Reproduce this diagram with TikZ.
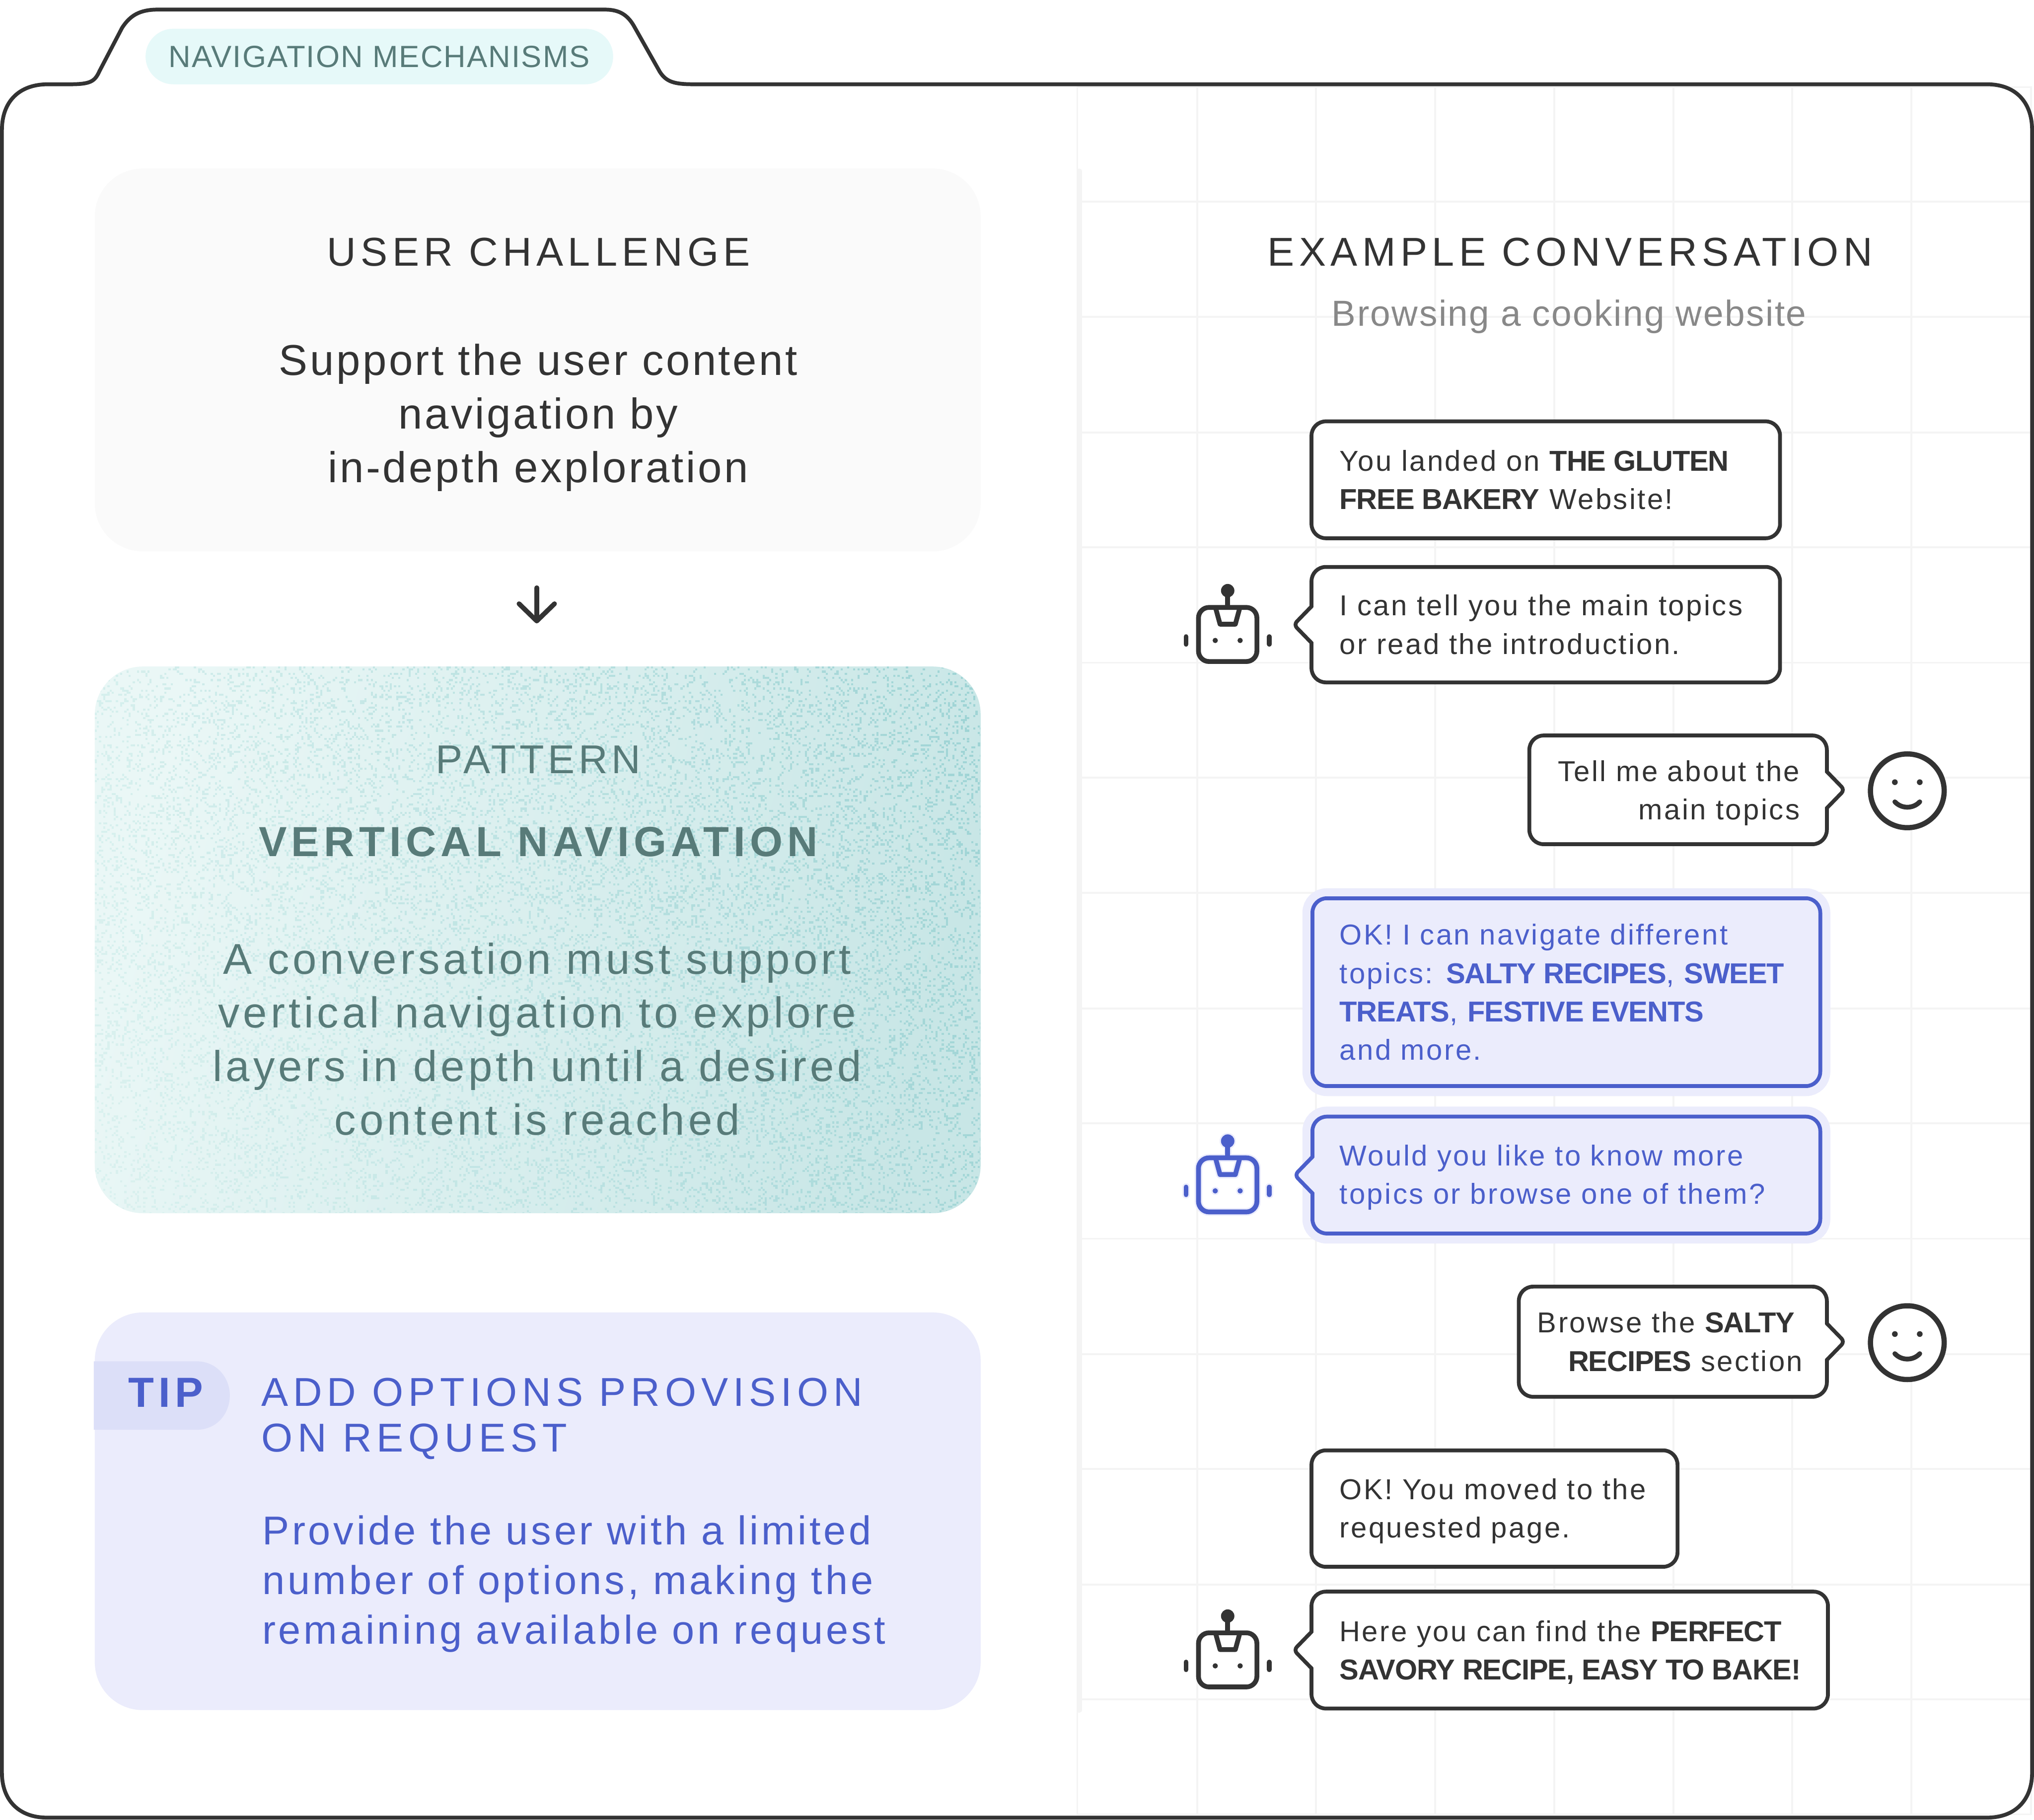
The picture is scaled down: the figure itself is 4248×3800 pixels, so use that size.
\documentclass[tikz,border=0pt]{standalone}
\usepackage{fontspec}
\setmainfont{Liberation Sans}
\usetikzlibrary{arrows.meta,calc}
\definecolor{Ink}{HTML}{333333}
\definecolor{Stone}{HTML}{888888}
\definecolor{Sage}{HTML}{587B79}
\definecolor{Indigo}{HTML}{4B5FCB}
\definecolor{Halo}{HTML}{EBECFC}
\definecolor{HaloDeep}{HTML}{DCDFF8}
\definecolor{CardGray}{HTML}{FAFAFA}
\definecolor{PillMint}{HTML}{E6F9F9}
\definecolor{GridGray}{HTML}{F4F4F4}
\definecolor{MintLight}{HTML}{EAF7F6}
\definecolor{MintDeep}{HTML}{C8E6E6}
\definecolor{GrainLight}{HTML}{DAF1EF}
\definecolor{GrainDeep}{HTML}{9FD4D5}
\newcommand{\lsfont}[3]{\fontsize{#1}{#2}\selectfont\addfontfeatures{LetterSpace=#3}}
\newcommand{\loud}[1]{{\bfseries\addfontfeatures{LetterSpace=-2}#1}}
\newcommand{\bubbletail}[4]{%
  \fill[#3] ($(#1)+(#2*-6,-38)$) -- ($(#1)+(#2*37,0)$) -- ($(#1)+(#2*-6,38)$) -- cycle;
  \draw[tailline,draw=#4] ($(#1)+(0,-38)$) -- ($(#1)+(#2*37,0)$) -- ($(#1)+(0,38)$);
}
\tikzset{
  card/.style={rounded corners=1cm, minimum width=18.49cm, anchor=north west, outer sep=0pt},
  bubble/.style={rounded corners=.3cm, draw=Ink, fill=white, line width=2.28pt,
    anchor=north west, outer sep=0pt},
  hibubble/.style={rounded corners=.3cm, draw=Indigo, fill=Halo, line width=2.28pt,
    anchor=north west, outer sep=0pt,
    preaction={draw=Halo, line width=11.9pt}},
  tailline/.style={line width=2.28pt, rounded corners=.09cm, line join=round},
  bubbletext/.style={text=Ink, inner sep=0pt, font=\lsfont{17.1}{22.8}{6}},
  hitext/.style={text=Indigo, inner sep=0pt, align=left, font=\lsfont{17.1}{22.8}{6}},
  heading/.style={text=Ink, inner sep=0pt, font=\lsfont{23.9}{28}{11.7}},
  lead/.style={text=Ink, inner sep=0pt, align=center, font=\lsfont{25.6}{31.9}{5.4}},
  sagelead/.style={text=Sage, inner sep=0pt, align=center, font=\lsfont{25.6}{31.9}{8.2}},
  grid line/.style={draw=GridGray, line width=1.14pt},
  flow/.style={-{Straight Barb[length=.36cm,width=.74cm,round]}, draw=Ink, line width=2.85pt,
    line cap=round, shorten <=.76cm, shorten >=.90cm},
  pics/robot/.style n args={3}{code={
    \draw[line width=2.85pt+#2*.2845pt, draw=#1, fill=#3, rounded corners=.22cm] (-61,-36) rectangle (61,77);
    \draw[line width=2.85pt+#2*.2845pt, draw=#1, line join=round] (-25,-34) -- (-16,-1) -- (16,-1) -- (25,-34);
    \draw[line width=2.85pt+#2*.2845pt, draw=#1] (0,-72) -- (0,-36);
    \fill[#1] (0,-71) circle ({14+#2/2});
    \fill[#1] (-26,33) circle ({5.5+#2/2}) (26,33) circle ({5.5+#2/2});
    \draw[line width=2.85pt+#2*.2845pt, draw=#1, line cap=round] (-87,25) -- (-87,41) (87,25) -- (87,41);
  }},
  pics/smiley/.style={code={
    \draw[line width=3.1pt, draw=Ink, fill=white] (0,0) circle (77);
    \fill[Ink] (-26,-18) circle (6) (26,-18) circle (6);
    \draw[line width=2.85pt, draw=Ink, line cap=round] (-26,23) .. controls (-12,38) and (12,38) .. (26,23);
  }}
}
\begin{document}
\begin{tikzpicture}[x=.01cm,y=-.01cm]
  \useasboundingbox (0,0) rectangle (4248,3800);
  \fill[white] (0,0) rectangle (4248,3800);
  \foreach \gx in {2500,2748,2997,3246,3495,3743,3992}
    \draw[grid line] (\gx,182) -- (\gx,3789);
  \foreach \gy in {421,662,903,1143,1384,1624,1865,2106,2346,2587,2828,3068,3309,3549}
    \draw[grid line] (2250,\gy) -- (4242,\gy);
  \draw[grid line] (2250,182) rectangle (4242,3789);
  \draw[draw=GridGray, line width=3.4pt, line cap=round] (2254,358) -- (2254,3571);
  \draw[draw=Ink, line width=2.28pt]
    (4,272) .. controls (4,212) and (40,176) .. (100,176) -- (145,176)
    .. controls (190,176) and (198,170) .. (208,148) -- (255,58)
    .. controls (272,32) and (292,20) .. (330,20) -- (1263,20)
    .. controls (1295,20) and (1312,32) .. (1326,58) -- (1378,150)
    .. controls (1392,172) and (1410,176) .. (1450,176) -- (4150,176)
    .. controls (4208,176) and (4244,212) .. (4244,272) -- (4244,3702)
    .. controls (4244,3760) and (4208,3796) .. (4150,3796) -- (98,3796)
    .. controls (40,3796) and (4,3760) .. (4,3702) -- cycle;
  \node[fill=PillMint, rounded corners=.58cm, minimum width=9.76cm, minimum height=1.16cm,
    outer sep=0pt, anchor=north west] (tabpill) at (304,60) {};
  \node[text=Sage, inner sep=0pt, font=\lsfont{18.2}{22}{3.5}] (tabtitle) at (tabpill.center) {NAVIGATION MECHANISMS};
  \node[card, fill=CardGray, minimum height=7.99cm] (challenge) at (198,352) {};
  \node[card, left color=MintLight, right color=MintDeep, shading angle=75, minimum height=11.41cm] (pattern) at (198,1392) {};
  \node[card, fill=Halo, minimum height=8.30cm] (tipcard) at (198,2741) {};
  \draw[flow] ([xshift=-.02cm]challenge.south) -- ([xshift=-.02cm]pattern.north);
  \pgfmathsetseed{7}
  \begin{scope}
    \clip[rounded corners=1cm] (198,1392) rectangle (2047,2533);
    \foreach \i in {0,...,35}{
      \pgfmathtruncatemacro{\mixpct}{\i*100/35}
      \pgfmathsetmacro{\lowx}{198+\i*56}
      \draw[draw=GrainDeep!\mixpct!GrainLight, line width=1.25pt]
        \foreach \n [evaluate=\n as \doty using {1394+4.4*int(rnd*260)}] in {1,...,600}{
          ({4.4*int((\lowx+rnd*56-(2533-\doty)*.15)/4.4)},\doty) -- ++(4.4,0)
        };
    }
  \end{scope}
  \node[heading] (challengetitle) at (1125,526) {USER CHALLENGE};
  \node[lead] (challengebody) at (1124,872) {Support the user content\\navigation by\\in-depth exploration};
  \node[text=Sage, inner sep=0pt, font=\lsfont{23.9}{28}{9.5}] (patterntitle) at (1124,1586) {PATTERN};
  \node[text=Sage, inner sep=0pt, font=\lsfont{25}{30}{11}\bfseries] (patternname) at (1124,1758) {VERTICAL NAVIGATION};
  \node[sagelead] (patternbody) at (1122,2170) {A conversation must support\\vertical navigation to explore\\layers in depth until a desired\\content is reached};
  \draw[fill=HaloDeep, draw=none] (196,2843) -- (410,2843) .. controls (455,2843) and (480,2880) .. (480,2914)
    .. controls (480,2950) and (455,2986) .. (410,2986) -- (196,2986) -- cycle;
  \node[text=Indigo, inner sep=0pt, font=\lsfont{25}{30}{11}\bfseries] (tiplabel) at (346,2908) {TIP};
  \node[text=Indigo, inner sep=0pt, align=left, anchor=north west, font=\lsfont{23.9}{27.3}{12.3}] (tiptitle) at (545,2877) {ADD OPTIONS PROVISION\\ON REQUEST};
  \node[text=Indigo, inner sep=0pt, align=left, anchor=west, font=\lsfont{23.9}{29.6}{7.2}] (tipbody) at (547,3308) {Provide the user with a limited\\number of options, making the\\remaining available on request};
  \node[heading] (exampletitle) at (3279,526) {EXAMPLE CONVERSATION};
  \node[text=Stone, inner sep=0pt, font=\lsfont{21.5}{26}{3.5}] (examplesub) at (3277,661) {Browsing a cooking website};
  \node[bubble, minimum width=9.78cm, minimum height=2.44cm] (landed) at (2739,880) {};
  \node[bubbletext, align=left, anchor=west] (landedtext) at ($(landed.west)+(58,0)$) {You landed on \loud{THE GLUTEN}\\\loud{FREE BAKERY} Website!};
  \node[bubble, minimum width=9.78cm, minimum height=2.41cm] (topics) at (2739,1184) {};
  \bubbletail{topics.west}{-1}{white}{Ink}
  \node[bubbletext, align=left, anchor=west] (topicstext) at ($(topics.west)+(58,0)$) {I can tell you the main topics\\or read the introduction.};
  \pic at ($(topics.west)+(-175,0)$) {robot={Ink}{0}{white}};
  \node[bubble, minimum width=6.21cm, minimum height=2.27cm] (tellme) at (3194,1536) {};
  \bubbletail{tellme.east}{1}{white}{Ink}
  \node[bubbletext, align=right, anchor=east] (tellmetext) at ($(tellme.east)+(-56,7)$) {Tell me about the\\main topics};
  \pic at ($(tellme.east)+(168,2)$) {smiley};
  \node[hibubble, minimum width=10.60cm, minimum height=3.92cm] (navigate) at (2741,1876) {};
  \node[hitext, anchor=west] (navigatetext) at ($(navigate.west)+(56,0)$) {OK! I can navigate different\\topics: \loud{SALTY RECIPES}, \loud{SWEET}\\\loud{TREATS}, \loud{FESTIVE EVENTS}\\and more.};
  \node[hibubble, minimum width=10.60cm, minimum height=2.44cm] (browse) at (2741,2332) {};
  \bubbletail{browse.west}{-1}{Halo}{Indigo}
  \node[hitext, anchor=west] (browsetext) at ($(browse.west)+(56,5)$) {Would you like to know more\\topics or browse one of them?};
  \pic at ($(browse.west)+(-177,0)$) {robot={Halo}{6}{white}};
  \pic at ($(browse.west)+(-177,0)$) {robot={Indigo}{0}{none}};
  \node[bubble, minimum width=6.43cm, minimum height=2.30cm] (salty) at (3172,2687) {};
  \bubbletail{salty.east}{1}{white}{Ink}
  \node[bubbletext, align=right, anchor=east] (saltytext) at ($(salty.east)+(-50,0)$) {Browse the \loud{SALTY}\hspace*{.16cm}\\\loud{RECIPES} section};
  \pic at ($(salty.east)+(168,2)$) {smiley};
  \node[bubble, minimum width=7.64cm, minimum height=2.43cm] (moved) at (2739,3029) {};
  \node[bubbletext, align=left, anchor=west] (movedtext) at ($(moved.west)+(58,5)$) {OK! You moved to the\\requested page.};
  \node[bubble, minimum width=10.78cm, minimum height=2.44cm] (savory) at (2739,3324) {};
  \bubbletail{savory.west}{-1}{white}{Ink}
  \node[bubbletext, align=left, anchor=west] (savorytext) at ($(savory.west)+(58,5)$) {Here you can find the \loud{PERFECT}\\\loud{SAVORY RECIPE, EASY TO BAKE!}};
  \pic at ($(savory.west)+(-175,0)$) {robot={Ink}{0}{white}};
\end{tikzpicture}
\end{document}
